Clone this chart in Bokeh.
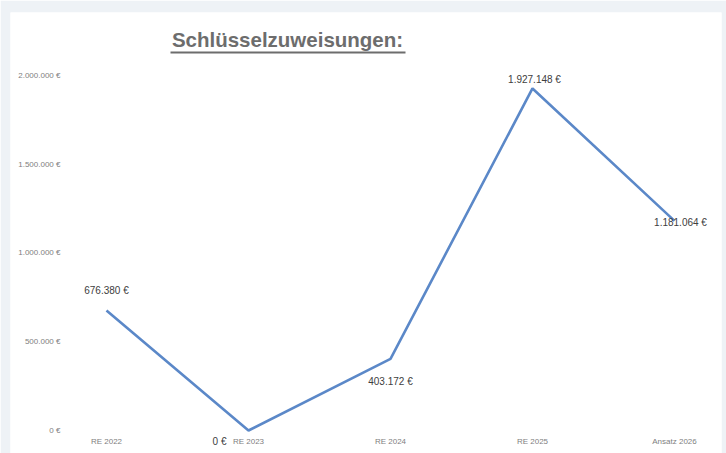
from bokeh.plotting import figure
from bokeh.models import ColumnDataSource, Range1d, FixedTicker, BoxAnnotation, Label
from bokeh.core.properties import value
from bokeh.embed import file_html
from bokeh.resources import INLINE

# ---- data ----
title_text = "Schlüsselzuweisungen:"
categories = ["RE 2022", "RE 2023", "RE 2024", "RE 2025", "Ansatz 2026"]
amounts = [676380, 0, 403172, 1927148, 1181064]
y_ticks = [0, 500000, 1000000, 1500000, 2000000]
y_tick_labels = ["0 €", "500.000 €", "1.000.000 €", "1.500.000 €", "2.000.000 €"]

# ---- label styling (pixel offsets, alignment) ----
label_dx = [0, -22, 0, 2, 6]
label_dy = [-20, 11, 23, -9, 2]
label_align = ["center", "right", "center", "center", "center"]


def fmt(v):
    return f"{v:,}".replace(",", ".") + " €"


xs = list(range(len(categories)))
src = ColumnDataSource(dict(
    x=xs, y=amounts, txt=[fmt(v) for v in amounts],
    dx=label_dx, dy=label_dy, align=label_align,
))

BG = "#eef2f6"
FONT = "Liberation Sans"

p = figure(width=726, height=453,
           x_range=Range1d(-0.676, 4.331), y_range=Range1d(-129600, 2354900),
           output_backend="svg", toolbar_location=None,
           min_border_left=10, min_border_right=5, min_border_top=12, min_border_bottom=0,
           border_fill_color=BG, background_fill_color="white", outline_line_color=None)

p.xgrid.visible = False
p.ygrid.visible = False

p.xaxis.ticker = FixedTicker(ticks=xs)
p.xaxis.major_label_overrides = {i: c for i, c in enumerate(categories)}
p.xaxis.fixed_location = -16900
p.yaxis.ticker = FixedTicker(ticks=y_ticks)
p.yaxis.major_label_overrides = {t: l for t, l in zip(y_ticks, y_tick_labels)}
p.yaxis.fixed_location = -0.31
for ax in (p.xaxis, p.yaxis):
    ax.axis_line_color = None
    ax.major_tick_line_color = None
    ax.minor_tick_line_color = None
    ax.major_tick_out = 0
    ax.major_tick_in = 0
    ax.major_label_text_font = FONT
    ax.major_label_text_font_size = "8px"
    ax.major_label_text_color = "#808080"
p.xaxis.major_label_standoff = 4
p.yaxis.major_label_standoff = 2

p.line("x", "y", source=src, line_color="#5b88c8", line_width=2.6)

p.text("x", "y", text="txt", source=src, x_offset="dx", y_offset="dy",
       text_align="align", text_baseline="middle",
       text_font=value(FONT), text_font_size="10px", text_color="#404040")

# title with underline
p.add_layout(Label(x=287, y=39, x_units="canvas", y_units="canvas", text=title_text,
                   text_align="center", text_baseline="alphabetic",
                   text_font=FONT, text_font_style="bold", text_font_size="20.5px",
                   text_color="#6d6d6d"))
p.add_layout(BoxAnnotation(left=170, right=405, top=51, bottom=53,
                           left_units="canvas", right_units="canvas",
                           top_units="canvas", bottom_units="canvas",
                           fill_color="#6d6d6d", fill_alpha=1, line_color=None))

open("out.html", "w").write(file_html(p, INLINE))
